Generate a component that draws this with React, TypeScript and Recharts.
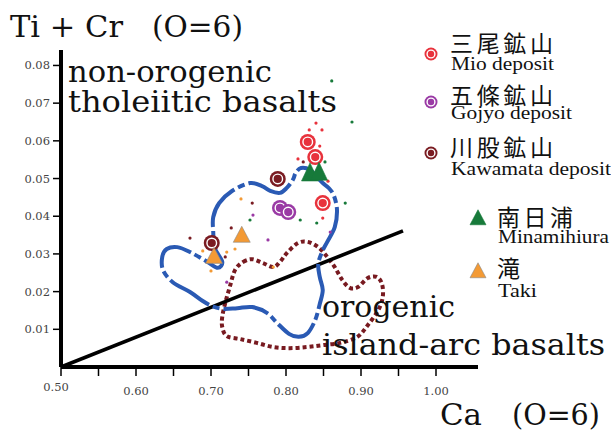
import { ScatterChart, Scatter, XAxis, YAxis, ReferenceLine } from "recharts";

// Ca (O=6) vs Ti + Cr (O=6) for clinopyroxene grains
const MIO = [[0.829, 0.0597], [0.839, 0.0557], [0.849, 0.0435]];
const GOJYO = [[0.792, 0.0422], [0.803, 0.0411]];
const KAWAMATA = [[0.789, 0.0499], [0.701, 0.0329]];
const MINAMIHIURA = [[0.832, 0.0515], [0.844, 0.0517]];
const TAKI = [[0.741, 0.035], [0.704, 0.0294]];

// individual analyses (small dots)
const DOTS_GREEN = [[0.861, 0.0759], [0.888, 0.065], [0.852, 0.0544], [0.879, 0.0435], [0.819, 0.039], [0.841, 0.0382], [0.752, 0.039]];
const DOTS_RED = [[0.84, 0.0647], [0.831, 0.0629], [0.848, 0.0629], [0.845, 0.0586], [0.816, 0.0552], [0.856, 0.0493], [0.849, 0.0395]];
const DOTS_DARK = [[0.823, 0.0544], [0.755, 0.0435], [0.727, 0.0369], [0.672, 0.0342], [0.719, 0.0292]];
const DOTS_PURPLE = [[0.756, 0.0403], [0.776, 0.0337], [0.859, 0.0358], [0.721, 0.0225]];
const DOTS_ORANGE = [[0.74, 0.0446], [0.689, 0.0308], [0.721, 0.0305], [0.732, 0.0313], [0.7, 0.0255], [0.783, 0.0265]];

// field outlines
const BLUE_FIELD = [
  [0.752, 0.0488], [0.768, 0.048], [0.779, 0.0467], [0.792, 0.0462], [0.801, 0.0475], [0.809, 0.0496],
  [0.813, 0.0515], [0.82, 0.0528], [0.832, 0.0523], [0.841, 0.0504], [0.849, 0.0488], [0.857, 0.0475],
  [0.864, 0.0454], [0.868, 0.0416], [0.865, 0.0371], [0.855, 0.0332], [0.848, 0.0305], [0.843, 0.0273],
  [0.845, 0.0239], [0.849, 0.0204], [0.845, 0.0167], [0.839, 0.0125], [0.829, 0.009], [0.817, 0.008],
  [0.804, 0.0088], [0.788, 0.0117], [0.775, 0.0143], [0.755, 0.0159], [0.735, 0.0156], [0.716, 0.0154],
  [0.701, 0.0162], [0.689, 0.0175], [0.672, 0.0199], [0.649, 0.0225], [0.636, 0.0257], [0.635, 0.0292],
  [0.641, 0.0313], [0.655, 0.0318], [0.672, 0.0305], [0.695, 0.0279], [0.709, 0.0263], [0.715, 0.0279],
  [0.705, 0.0316], [0.703, 0.0358], [0.703, 0.0398], [0.711, 0.0435], [0.728, 0.0467],
];
const BROWN_FIELD = [
  [0.743, 0.0279], [0.755, 0.0286], [0.769, 0.0276], [0.783, 0.0265], [0.792, 0.0279], [0.801, 0.0302],
  [0.816, 0.0329], [0.829, 0.0332], [0.843, 0.0318], [0.855, 0.0292], [0.865, 0.0265], [0.875, 0.0231],
  [0.885, 0.021], [0.896, 0.0212], [0.909, 0.0236], [0.921, 0.0239], [0.928, 0.022], [0.929, 0.0186],
  [0.923, 0.0151], [0.909, 0.0111], [0.895, 0.008], [0.872, 0.0064], [0.849, 0.0058], [0.828, 0.0053],
  [0.805, 0.005], [0.783, 0.0053], [0.761, 0.0064], [0.739, 0.0074], [0.721, 0.0082], [0.715, 0.0106],
  [0.715, 0.0133], [0.719, 0.017], [0.725, 0.0212], [0.732, 0.0257],
];
const DIVIDE = [[0.5, 0], [0.956, 0.0361]];

const X_TICKS = [0.5, 0.55, 0.6, 0.65, 0.7, 0.75, 0.8, 0.85, 0.9, 0.95, 1.0];
const Y_TICKS = [0.01, 0.02, 0.03, 0.04, 0.05, 0.06, 0.07, 0.08];

const RED = "#e8323c";
const PURPLE = "#9a3aa5";
const DARK = "#7a1c22";
const GREEN = "#177a3a";
const ORANGE = "#f39a35";

const pts = (arr: number[][]) => arr.map(([x, y]) => ({ x, y }));

// closed Catmull-Rom curve through every outline point
const closedCatmull = (ctx: any) => {
  let p: number[][] = [];
  return {
    areaStart() {},
    areaEnd() {},
    lineStart() {
      p = [];
    },
    point(x: number, y: number) {
      p.push([x, y]);
    },
    lineEnd() {
      const n = p.length;
      if (!n) return;
      ctx.moveTo(p[0][0], p[0][1]);
      for (let i = 0; i < n; i++) {
        const a = p[(i - 1 + n) % n];
        const b = p[i];
        const c = p[(i + 1) % n];
        const d = p[(i + 2) % n];
        ctx.bezierCurveTo(
          b[0] + (c[0] - a[0]) / 6,
          b[1] + (c[1] - a[1]) / 6,
          c[0] - (d[0] - b[0]) / 6,
          c[1] - (d[1] - b[1]) / 6,
          c[0],
          c[1]
        );
      }
      ctx.closePath();
    },
  };
};

const ringDot = (fill: string, r = 8) => (p: any) => (
  <g>
    <circle cx={p.cx} cy={p.cy} r={r} fill={fill} />
    <circle cx={p.cx} cy={p.cy} r={r * 0.6} fill={fill} stroke="#fff" strokeWidth={1.4} />
  </g>
);

const tri = (fill: string, stroke: string, w = 17, h = 16) => (p: any) => (
  <polygon
    points={`${p.cx},${p.cy - h * 0.55} ${p.cx - w / 2},${p.cy + h * 0.45} ${p.cx + w / 2},${p.cy + h * 0.45}`}
    fill={fill}
    stroke={stroke}
    strokeWidth={0.6}
  />
);

const dot = (fill: string) => (p: any) => <circle cx={p.cx} cy={p.cy} r={1.6} fill={fill} />;
const noMark = () => <g />;

const tickFont = { fontFamily: "DejaVu Serif", fontSize: 11.5, fill: "#444" };

// tick mark + label; p.x / p.y sit on the axis line (tickSize 0, tickMargin 0)
const XTick = (p: any) => {
  const v = p.payload.value;
  const labelled = Math.abs(v * 10 - Math.round(v * 10)) < 1e-6;
  const first = v === 0.5;
  return (
    <g>
      <line x1={p.x} x2={p.x} y1={p.y} y2={p.y + 9} stroke="#000" strokeWidth={1.5} />
      {labelled && (
        <text x={p.x + (first ? -5 : 0)} y={p.y + (first ? 24 : 28)} textAnchor="middle" {...tickFont}>
          {v.toFixed(2)}
        </text>
      )}
    </g>
  );
};

const YTick = (p: any) => (
  <g>
    <line x1={p.x - 8} x2={p.x} y1={p.y} y2={p.y} stroke="#000" strokeWidth={1.5} />
    <text x={p.x - 11} y={p.y} dy={4} textAnchor="end" {...tickFont}>
      {p.payload.value.toFixed(2)}
    </text>
  </g>
);

const LEGEND = [
  { jp: "三尾鉱山", en: "Mio deposit", kind: "ring", color: RED, ix: 431, iy: 54, tx: 450, jy: 52, ey: 70, jw: 103, ew: 103 },
  { jp: "五條鉱山", en: "Gojyo deposit", kind: "ring", color: PURPLE, ix: 431, iy: 102, tx: 450, jy: 104, ey: 119, jw: 103, ew: 121 },
  { jp: "川股鉱山", en: "Kawamata deposit", kind: "ring", color: DARK, ix: 431, iy: 153, tx: 450, jy: 156, ey: 175, jw: 103, ew: 160 },
  { jp: "南日浦", en: "Minamihiura", kind: "tri", color: GREEN, ix: 478, iy: 218, tx: 497, jy: 226, ey: 243, jw: 76, ew: 111 },
  { jp: "滝", en: "Taki", kind: "tri", color: ORANGE, ix: 478, iy: 271, tx: 497, jy: 277, ey: 297, jw: 0, ew: 39 },
];

const serif = "DejaVu Serif";
const axisStroke = { stroke: "#000", strokeWidth: 4 };

export default function App() {
  return (
    <div style={{ position: "absolute", left: 0, top: 0, width: 611, height: 432, background: "#fff" }}>
      <ScatterChart width={611} height={432} margin={{ top: 50, right: 133, bottom: 35, left: 11 }}>
        <XAxis
          type="number"
          dataKey="x"
          domain={[0.5, 1.056]}
          ticks={X_TICKS}
          interval={0}
          height={30}
          axisLine={axisStroke}
          tickLine={false}
          tickSize={0}
          tickMargin={0}
          tick={XTick}
        />
        <YAxis
          type="number"
          dataKey="y"
          domain={[0, 0.0841]}
          ticks={Y_TICKS}
          interval={0}
          width={50}
          axisLine={axisStroke}
          tickLine={false}
          tickSize={0}
          tickMargin={0}
          tick={YTick}
        />
        <Scatter
          data={pts(BROWN_FIELD)}
          shape={noMark}
          line={{ stroke: "#781a20", strokeWidth: 4, strokeDasharray: "4 3" }}
          lineJointType={closedCatmull as any}
          isAnimationActive={false}
        />
        <Scatter
          data={pts(DIVIDE)}
          shape={noMark}
          line={{ stroke: "#000", strokeWidth: 3.6 }}
          isAnimationActive={false}
        />
        <Scatter
          data={pts(BLUE_FIELD)}
          shape={noMark}
          line={{ stroke: "#2a5ab4", strokeWidth: 4, strokeDasharray: "46 4 7 4" }}
          lineJointType={closedCatmull as any}
          isAnimationActive={false}
        />
        <Scatter data={pts(DOTS_GREEN)} shape={dot(GREEN)} isAnimationActive={false} />
        <Scatter data={pts(DOTS_RED)} shape={dot(RED)} isAnimationActive={false} />
        <Scatter data={pts(DOTS_DARK)} shape={dot(DARK)} isAnimationActive={false} />
        <Scatter data={pts(DOTS_PURPLE)} shape={dot(PURPLE)} isAnimationActive={false} />
        <Scatter data={pts(DOTS_ORANGE)} shape={dot(ORANGE)} isAnimationActive={false} />
        <Scatter data={pts(GOJYO)} shape={ringDot(PURPLE)} isAnimationActive={false} />
        <Scatter data={pts(KAWAMATA)} shape={ringDot(DARK)} isAnimationActive={false} />
        <Scatter data={pts(TAKI)} shape={tri(ORANGE, "#888")} isAnimationActive={false} />
        <Scatter data={pts(MIO)} shape={ringDot(RED)} isAnimationActive={false} />
        <Scatter data={pts(MINAMIHIURA)} shape={tri(GREEN, GREEN, 17, 18)} isAnimationActive={false} />
        {/* heavy axis lines */}
        <ReferenceLine y={0} {...axisStroke} ifOverflow="visible" />
        <ReferenceLine x={0.5} {...axisStroke} ifOverflow="visible" />
      </ScatterChart>

      <svg width={611} height={432} style={{ position: "absolute", left: 0, top: 0, pointerEvents: "none" }}>
        <g fontFamily={serif} fontSize={30} fill="#111">
          <text x={10} y={37} textLength={113} lengthAdjust="spacingAndGlyphs">Ti + Cr</text>
          <text x={152} y={37} textLength={91} lengthAdjust="spacingAndGlyphs">(O=6)</text>
          <text x={68} y={82} textLength={204} lengthAdjust="spacingAndGlyphs">non-orogenic</text>
          <text x={68} y={112} textLength={269} lengthAdjust="spacingAndGlyphs">tholeiitic basalts</text>
          <text x={322} y={317} textLength={133} lengthAdjust="spacingAndGlyphs">orogenic</text>
          <text x={322} y={355} textLength={283} lengthAdjust="spacingAndGlyphs">island-arc basalts</text>
          <text x={440} y={425} textLength={42} lengthAdjust="spacingAndGlyphs">Ca</text>
          <text x={512} y={425} textLength={88} lengthAdjust="spacingAndGlyphs">(O=6)</text>
        </g>
        {LEGEND.map((l) => (
          <g key={l.en}>
            {l.kind === "ring"
              ? ringDot(l.color, 6.5)({ cx: l.ix, cy: l.iy })
              : tri(l.color, l.color === ORANGE ? "#888" : l.color, 16, 15)({ cx: l.ix, cy: l.iy })}
            <text
              x={l.tx}
              y={l.jy}
              fontFamily="Noto Sans CJK JP"
              fontSize={23}
              fill="#111"
              {...(l.jw ? { textLength: l.jw, lengthAdjust: "spacing" } : {})}
            >
              {l.jp}
            </text>
            <text
              x={l.tx + 1}
              y={l.ey}
              fontFamily="Liberation Serif"
              fontSize={18}
              fill="#111"
              textLength={l.ew}
              lengthAdjust="spacingAndGlyphs"
            >
              {l.en}
            </text>
          </g>
        ))}
      </svg>
    </div>
  );
}
